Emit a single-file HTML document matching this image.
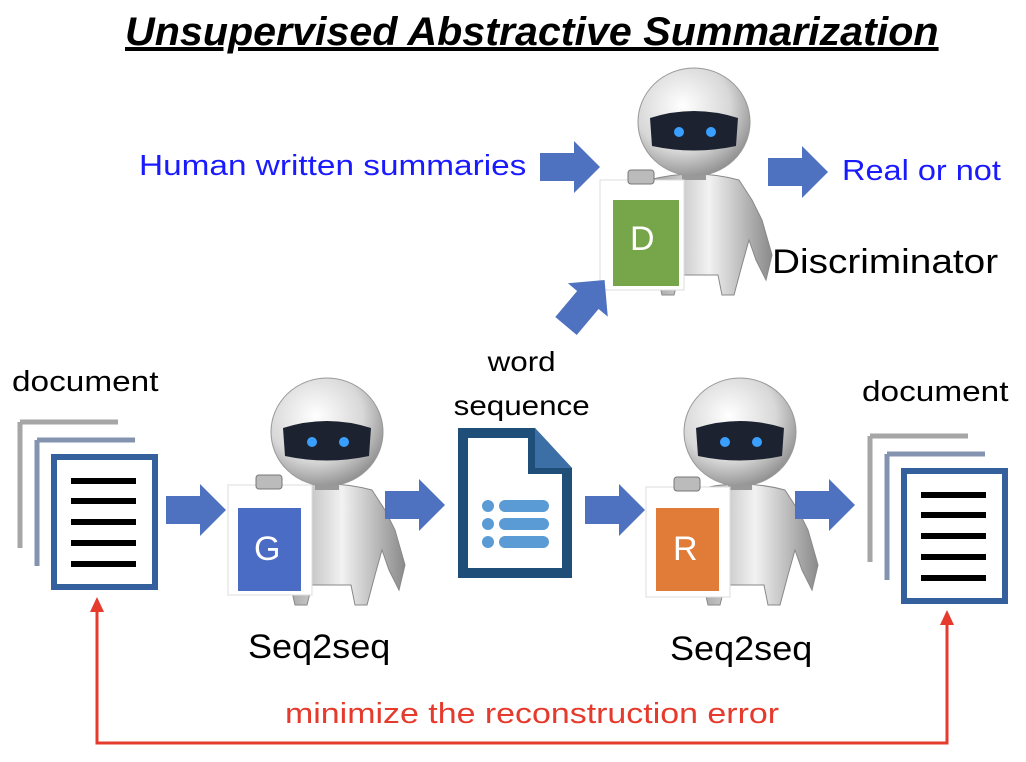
<!DOCTYPE html>
<html><head><meta charset="utf-8"><style>
html,body{margin:0;padding:0;background:#fff;}
body{width:1026px;height:762px;overflow:hidden;position:relative;font-family:"Liberation Sans",sans-serif;}
.t{position:absolute;white-space:nowrap;transform-origin:0 0;}
</style></head><body>
<svg width="1026" height="762" style="position:absolute;left:0;top:0">
<defs>
<radialGradient id="hg" cx="0.4" cy="0.35" r="0.7"><stop offset="0" stop-color="#fff"/><stop offset="0.6" stop-color="#d8d8d8"/><stop offset="1" stop-color="#8a8a8a"/></radialGradient>
<linearGradient id="bg" x1="0" x2="1"><stop offset="0" stop-color="#9a9a9a"/><stop offset="0.5" stop-color="#f2f2f2"/><stop offset="1" stop-color="#8a8a8a"/></linearGradient>
<g id="robot">
 <!-- body: starts at y=95 relative to head origin -->
 <path d="M-45,100 Q0,88 45,100 L58,120 L68,140 L78,175 L72,200 L62,180 L55,160 L48,185 L40,215 L28,215 L24,195 L-15,195 L-20,215 L-32,215 L-40,180 L-48,150 Z" fill="url(#bg)" stroke="#888" stroke-width="1"/>
 <rect x="-12" y="84" width="24" height="16" fill="#999"/>
 <ellipse cx="0" cy="42" rx="56" ry="54" fill="url(#hg)" stroke="#999"/>
 <path d="M-44,38 Q0,24 44,38 L42,66 Q0,75 -42,66 Z" fill="#1c2230"/>
 <circle cx="-15" cy="52" r="5" fill="#3aa0ff"/><circle cx="17" cy="52" r="5" fill="#3aa0ff"/>
</g>
<g id="arr"><path d="M0,-14 L34,-14 L34,-26 L60,0 L34,26 L34,14 L0,14 Z" fill="#4f72c0"/></g>
<g id="doc">
 <path d="M0,0 H98 M0,0 V126" stroke="#a6a6a6" stroke-width="5" fill="none"/>
 <path d="M17,18 H115 M17,18 V144" stroke="#8393b0" stroke-width="5" fill="none"/>
 <rect x="34" y="35" width="101" height="130" fill="#fff" stroke="#35609e" stroke-width="6"/>
 <g stroke="#000" stroke-width="6"><line x1="51" y1="59" x2="116" y2="59"/><line x1="51" y1="79" x2="116" y2="79"/><line x1="51" y1="100" x2="116" y2="100"/><line x1="51" y1="121" x2="116" y2="121"/><line x1="51" y1="142" x2="116" y2="142"/></g>
</g>
<g id="clip">
 <rect x="0" y="0" width="84" height="110" fill="#fff" stroke="#ddd"/>
 <rect x="28" y="-10" width="26" height="14" rx="3" fill="#bbb" stroke="#777"/>
</g>
</defs>

<use href="#robot" transform="translate(694,80)"/>
<use href="#robot" transform="translate(327,390)"/>
<use href="#robot" transform="translate(740,390)"/>

<use href="#clip" transform="translate(600,180)"/><rect x="613" y="200" width="66" height="86" fill="#76a54a"/>
<use href="#clip" transform="translate(228,485)"/><rect x="238" y="508" width="63" height="83" fill="#4a6cc4"/>
<use href="#clip" transform="translate(646,487)"/><rect x="656" y="508" width="63" height="83" fill="#e07b38"/>

<use href="#arr" transform="translate(540,167)"/>
<use href="#arr" transform="translate(768,172)"/>
<use href="#arr" transform="translate(566,326) rotate(-50)"/>
<use href="#arr" transform="translate(166,510)"/>
<use href="#arr" transform="translate(385,505)"/>
<use href="#arr" transform="translate(585,510)"/>
<use href="#arr" transform="translate(795,505)"/>

<use href="#doc" transform="translate(20,422)"/>
<use href="#doc" transform="translate(870,436)"/>

<path d="M458,428 H535 L572,468 V578 H458 Z" fill="#1f4e79"/>
<path d="M468,438 H528 V474 H562 V568 H468 Z" fill="#fff"/>
<path d="M535,428 V468 H572 Z" fill="#3b6fa5"/>
<g fill="#5b9bd5"><circle cx="488" cy="506" r="6"/><circle cx="488" cy="524" r="6"/><circle cx="488" cy="542" r="6"/>
<rect x="499" y="500" width="50" height="12" rx="6"/><rect x="499" y="518" width="50" height="12" rx="6"/><rect x="499" y="536" width="50" height="12" rx="6"/></g>

<path d="M97,610 V743 H947 V625" fill="none" stroke="#e53a2c" stroke-width="3"/>
<path d="M90,612 L97,597 L104,612 Z" fill="#e53a2c"/>
<path d="M940,625 L947,610 L954,625 Z" fill="#e53a2c"/>
</svg>

<div class="t" style="left:125px;top:10px;font-size:40px;font-weight:bold;font-style:italic;text-decoration:underline;transform:scaleX(1.03);">Unsupervised Abstractive Summarization</div>
<div class="t" style="left:139px;top:150px;font-size:29px;color:#1a1aff;transform:scaleX(1.15);">Human written summaries</div>
<div class="t" style="left:842px;top:155px;font-size:29px;color:#1a1aff;transform:scaleX(1.12);">Real or not</div>
<div class="t" style="left:772px;top:243px;font-size:34px;transform:scaleX(1.14);">Discriminator</div>
<div class="t" style="left:630px;top:220px;font-size:34px;color:#fff;">D</div>
<div class="t" style="left:254px;top:530px;font-size:34px;color:#fff;">G</div>
<div class="t" style="left:673px;top:530px;font-size:34px;color:#fff;">R</div>
<div class="t" style="left:441px;top:340px;width:144px;text-align:center;font-size:28px;line-height:44px;transform:scaleX(1.12);">word<br>sequence</div>
<div class="t" style="left:12px;top:366px;font-size:29px;transform:scaleX(1.15);">document</div>
<div class="t" style="left:862px;top:376px;font-size:29px;transform:scaleX(1.15);">document</div>
<div class="t" style="left:248px;top:628px;font-size:34px;transform:scaleX(1.06);">Seq2seq</div>
<div class="t" style="left:670px;top:630px;font-size:34px;transform:scaleX(1.06);">Seq2seq</div>
<div class="t" style="left:285px;top:698px;font-size:29px;color:#e53a2c;transform:scaleX(1.17);">minimize the reconstruction error</div>
</body></html>
